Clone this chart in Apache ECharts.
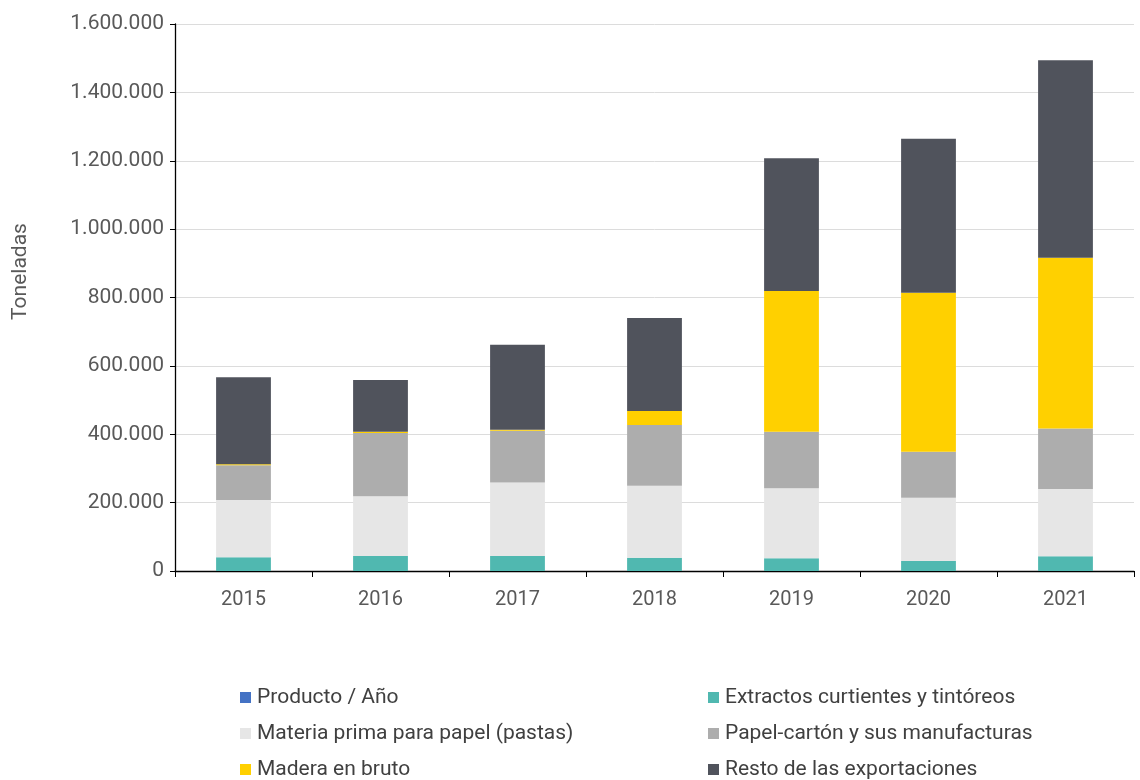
<!DOCTYPE html>
<html>
<head>
<meta charset="utf-8">
<script src="https://cdn.jsdelivr.net/npm/echarts@6/dist/echarts.min.js"></script>
<style>
  html, body { margin: 0; padding: 0; background: #fff; }
  #chart { width: 1140px; height: 780px; }
</style>
</head>
<body>
<div id="chart"></div>
<script>
const years = ["2015", "2016", "2017", "2018", "2019", "2020", "2021"];

// toneladas
const productoAnio = [];
const extractos = [40000, 44000, 44000, 39000, 37000, 29000, 43000];
const materiaPrima = [168000, 175000, 215000, 210000, 205000, 185000, 197000];
const papelCarton = [101000, 185000, 151000, 178000, 165000, 135000, 177000];
const maderaBruto = [3000, 3000, 3000, 41000, 412000, 465000, 499000];
const restoExport = [255000, 152000, 249000, 272000, 388000, 450000, 578000];

const yTicks = { min: 0, max: 1600000, interval: 200000 };

const seriesDefs = [
  { name: "Producto / Año", data: productoAnio, color: "#4472C4" },
  { name: "Extractos curtientes y tintóreos", data: extractos, color: "#50B8B0" },
  { name: "Materia prima para papel (pastas)", data: materiaPrima, color: "#E6E6E6" },
  { name: "Papel-cartón y sus manufacturas", data: papelCarton, color: "#ADADAD" },
  { name: "Madera en bruto", data: maderaBruto, color: "#FFD000" },
  { name: "Resto de las exportaciones", data: restoExport, color: "#50535C" },
];

const fmt = (v) => String(v).replace(/\B(?=(\d{3})+(?!\d))/g, ".");

const chart = echarts.init(document.getElementById("chart"));

const legendCommon = {
  orient: "vertical",
  top: 687,
  height: 110,
  padding: 0,
  icon: "rect",
  itemWidth: 11,
  itemHeight: 11,
  itemGap: 15,
  textStyle: { color: "#404040", fontSize: 21, fontFamily: "Roboto", padding: [0, 0, 0, 1] },
};

chart.setOption({
  animation: false,
  backgroundColor: "#fff",
  textStyle: { fontFamily: "Roboto" },
  legend: [
    Object.assign({}, legendCommon, {
      left: 240,
      data: [seriesDefs[0].name, seriesDefs[2].name, seriesDefs[4].name],
    }),
    Object.assign({}, legendCommon, {
      left: 708,
      data: [seriesDefs[1].name, seriesDefs[3].name, seriesDefs[5].name],
    }),
  ],
  grid: { left: 175, right: 6, top: 24, bottom: 209, containLabel: false },
  xAxis: {
    type: "category",
    data: years,
    axisLine: { lineStyle: { color: "#000", width: 1.3 } },
    axisTick: { show: true, length: 6, lineStyle: { color: "#000" } },
    axisLabel: { color: "#595959", fontSize: 20, margin: 19, fontFamily: "Roboto" },
  },
  yAxis: {
    type: "value",
    min: yTicks.min,
    max: yTicks.max,
    interval: yTicks.interval,
    name: "Toneladas",
    nameLocation: "middle",
    nameGap: 144,
    nameRotate: 90,
    nameTextStyle: { color: "#595959", fontSize: 21, fontFamily: "Roboto", padding: [0, 0, 0, 52] },
    axisLine: { show: true, lineStyle: { color: "#000", width: 1.3 } },
    axisTick: { show: true, length: 5, lineStyle: { color: "#000" } },
    axisLabel: { color: "#595959", fontSize: 21, margin: 11, formatter: fmt, fontFamily: "Roboto" },
    splitLine: { lineStyle: { color: "#DCDCDC" } },
  },
  series: seriesDefs.map((s) => ({
    name: s.name,
    type: "bar",
    stack: "total",
    barWidth: "40%",
    data: s.data,
    itemStyle: { color: s.color },
  })),
});
</script>
</body>
</html>
